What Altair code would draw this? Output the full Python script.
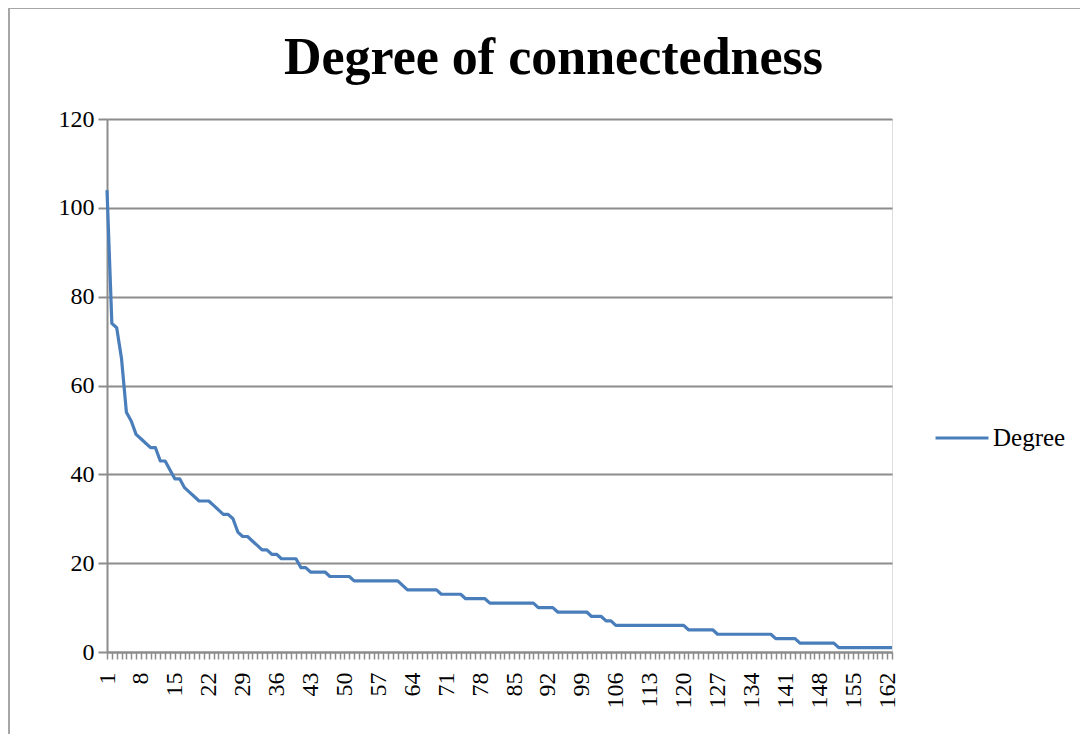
import altair as alt
import pandas as pd

# Degree value for each node (ranked)
degree = (
    [104, 74, 73, 66, 54, 52, 49, 48, 47, 46, 46, 43, 43, 41, 39, 39, 37, 36, 35, 34,
     34, 34, 33, 32, 31, 31, 30, 27, 26, 26, 25, 24, 23, 23, 22, 22]
    + [21] * 4 + [19] * 2 + [18] * 4 + [17] * 5 + [16] * 10 + [15] + [14] * 7
    + [13] * 5 + [12] * 5 + [11] * 10 + [10] * 4 + [9] * 7 + [8] * 3 + [7] * 2
    + [6] * 15 + [5] * 6 + [4] * 12 + [3] * 5 + [2] * 8 + [1] * 12
)
nodes = list(range(1, len(degree) + 1))
series_name = "Degree"
y_ticks = [0, 20, 40, 60, 80, 100, 120]
label_step = 7
title_text = "Degree of connectedness"

df = pd.DataFrame({"Node": nodes, "Degree": degree, "Series": [series_name] * len(nodes)})

FONT = "Liberation Serif"
GRAY = "#8c8c8c"
BLUE = "#4a7ebb"

line = alt.Chart(df).mark_line(strokeWidth=3.2, strokeJoin="round").encode(
    x=alt.X(
        "Node:Q",
        scale=alt.Scale(domain=[1, len(nodes)], nice=False, zero=False),
        axis=alt.Axis(
            values=nodes,
            labelExpr=f"(datum.value - 1) % {label_step} == 0 ? datum.label : ''",
            labelAngle=270,
            labelOverlap=False,
            labelFont=FONT,
            labelFontSize=24,
            labelColor="black",
            labelPadding=13,
            tickSize=7,
            tickColor=GRAY,
            tickWidth=1.5,
            domainColor=GRAY,
            domainWidth=2,
            grid=False,
            title=None,
        ),
    ),
    y=alt.Y(
        "Degree:Q",
        scale=alt.Scale(domain=[0, 120], nice=False),
        axis=alt.Axis(
            values=y_ticks,
            labelFont=FONT,
            labelFontSize=24,
            labelColor="black",
            labelPadding=4,
            tickSize=9,
            tickColor=GRAY,
            tickWidth=2,
            domainColor=GRAY,
            domainWidth=2,
            grid=True,
            gridColor=GRAY,
            gridWidth=2,
            title=None,
        ),
    ),
    color=alt.Color(
        "Series:N",
        scale=alt.Scale(range=[BLUE]),
        legend=alt.Legend(
            title=None,
            orient="none",
            legendX=827,
            legendY=291,
            padding=0,
            symbolType="stroke",
            symbolSize=2800,
            symbolStrokeWidth=3,
            labelFont=FONT,
            labelFontSize=25,
            labelColor="black",
            labelOffset=3,
        ),
    ),
)

frame = alt.Chart(alt.Data(values=[{}])).mark_rect(
    fill="transparent", stroke="#a6a6a6", strokeWidth=2
).encode(
    x=alt.value(-98), x2=alt.value(990), y=alt.value(-111), y2=alt.value(640)
)

chart = alt.layer(frame, line).properties(
    width=785,
    height=533,
    autosize=alt.AutoSizeParams(type="none"),
    padding={"left": 99, "top": 111, "right": 188, "bottom": 82},
    title=alt.TitleParams(
        title_text,
        font=FONT,
        fontSize=52,
        fontWeight="bold",
        color="black",
        anchor="middle",
        baseline="alphabetic",
        dx=54,
        dy=119,
        offset=0,
    ),
).configure_view(stroke=None).configure(background="white")

chart.save("out.html", embed_options={"renderer": "svg", "actions": False})
